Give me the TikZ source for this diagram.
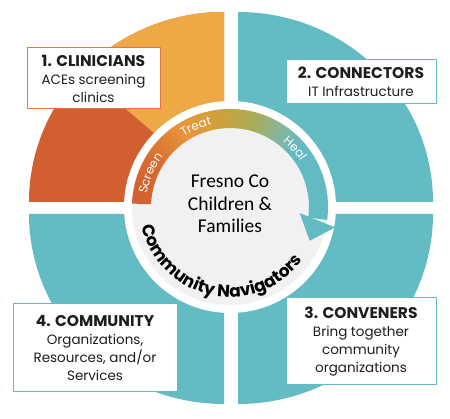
\documentclass[tikz,border=0pt]{standalone}
\usepackage{fontspec}
\setmainfont{Poppins}
\newfontfamily\calfont{Carlito}
\usetikzlibrary{decorations.text}
\definecolor{qteal}{HTML}{63BBC4}
\definecolor{qorange}{HTML}{EEA846}
\definecolor{qred}{HTML}{D15F30}
\definecolor{qgrey}{HTML}{F1F1F1}
\definecolor{qboxred}{HTML}{E27548}
\definecolor{qtext}{HTML}{1E1E1E}
\definecolor{cA}{HTML}{D3602F}
\definecolor{cB}{HTML}{D86B31}
\definecolor{cC}{HTML}{E8963A}
\definecolor{cD}{HTML}{CDA23C}
\definecolor{cE}{HTML}{AAAD58}
\definecolor{cF}{HTML}{83B79F}
\definecolor{cG}{HTML}{62BAC3}
\tikzset{
  infobox/.style={draw=qteal, line width=1pt, fill=white, align=center, text=qtext,
    font=\fontsize{13.5}{18}\selectfont, inner sep=2pt},
  bandtext/.style={decorate, decoration={text along path, text align=center, text color=white}},
}
\newcommand{\ttl}[1]{{\fontsize{15.5}{19}\selectfont\bfseries #1}}
\begin{document}
\begin{tikzpicture}[x=1pt,y=1pt]
\useasboundingbox (0,0) rectangle (450,419);
% quadrants
\fill[qteal] (238,217) -- (433,217) arc[start angle=0,end angle=90,x radius=195pt,y radius=190pt] -- cycle;
\fill[qred] (224,217) -- (224,407) arc[start angle=90,end angle=180,x radius=195pt,y radius=190pt] -- cycle;
\begin{scope}
  \clip (224,217) -- (224,407) arc[start angle=90,end angle=180,x radius=195pt,y radius=190pt] -- cycle;
  \fill[qorange] (-3,419) -- (257,199) -- (300,199) -- (300,450) -- (-3,450) -- cycle;
\end{scope}
\fill[qteal] (224,205) -- (29,205) arc[start angle=180,end angle=270,x radius=195pt,y radius=190pt] -- cycle;
\fill[qteal] (238,205) -- (238,15) arc[start angle=270,end angle=360,x radius=195pt,y radius=190pt] -- cycle;
% inner disc
\coordinate (c) at (230,212);
\fill[white] (c) circle[radius=106pt];
\fill[qgrey] (c) circle[radius=98pt];
% gradient band
\begin{scope}[shift={(230,212)}]
\foreach \s/\e/\ca/\cb in {178/150/cA/cB,150/120/cB/cC,120/95/cC/cD,95/75/cD/cE,75/55/cE/cF,55/40/cF/cG,40/-7/cG/cG}{
  \foreach \i in {0,...,9}{
    \pgfmathsetmacro\aa{\s-(\s-\e)*\i/10}
    \pgfmathsetmacro\ab{\s-(\s-\e)*(\i+1)/10-0.6}
    \pgfmathtruncatemacro\p{10*\i+5}
    \fill[\cb!\p!\ca] (\aa:98pt) arc[start angle=\aa,end angle=\ab,radius=98pt] -- (\ab:79pt) arc[start angle=\ab,end angle=\aa,radius=79pt] -- cycle;
  }
}
\fill[cG] (-5:70pt) -- (-23:86.5pt) -- (-11:107pt) -- cycle;
\path[bandtext, decoration={text={|\fontsize{12}{12}\selectfont|Screen}}] (187:84pt) arc[start angle=187,end angle=127,radius=84pt];
\path[bandtext, decoration={text={|\fontsize{12}{12}\selectfont|Treat}}] (143:84pt) arc[start angle=143,end angle=83,radius=84pt];
\path[bandtext, decoration={text={|\fontsize{12}{12}\selectfont|Heal}}] (72:84pt) arc[start angle=72,end angle=12,radius=84pt];
% community navigators
\path[decorate, decoration={text along path, text align=center, text color=black,
  text={|\bfseries\fontsize{17}{17}\selectfont|Community Navigators}}]
  (190:90pt) arc[start angle=190,end angle=326,radius=90pt];
\end{scope}
\node[font=\calfont\fontsize{19.5}{22.5}\selectfont, align=center, text=black] (centre) at (230,215) {Fresno Co\\Children \&\\Families};
% boxes
\node[infobox, draw=qboxred, minimum width=133pt, minimum height=61pt] (b1) at (93.5,340.5)
  {\ttl{1. CLINICIANS}\\ACEs screening\\clinics};
\node[infobox, minimum width=150pt, minimum height=44pt] (b2) at (361,337)
  {\ttl{2. CONNECTORS}\\IT Infrastructure};
\node[infobox, minimum width=150pt, minimum height=87pt] (b3) at (361,77.5)
  {\ttl{3. CONVENERS}\\Bring together\\community\\organizations};
\node[infobox, minimum width=164pt, minimum height=88pt] (b4) at (95,71)
  {\ttl{4. COMMUNITY}\\Organizations,\\Resources, and/or\\Services};
\end{tikzpicture}
\end{document}
